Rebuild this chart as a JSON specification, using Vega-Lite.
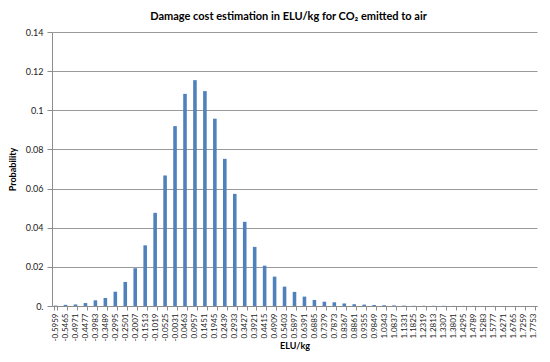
{
  "$schema": "https://vega.github.io/schema/vega-lite/v6.json",
  "autosize": {"type": "none"},
  "width": 485,
  "height": 274,
  "padding": {"left": 52, "top": 32, "right": 13, "bottom": 56},
  "background": "white",
  "title": {
    "text": "Damage cost estimation in ELU/kg for CO₂ emitted to air",
    "font": "Lato",
    "fontSize": 11,
    "fontWeight": "bold",
    "color": "#000000",
    "offset": 6,
    "anchor": "middle",
    "dx": -6
  },
  "config": {
    "view": {"stroke": null},
    "font": "Lato"
  },
  "data": {
    "values": [
      {"x": "-0.5959", "p": 0.0002},
      {"x": "-0.5465", "p": 0.0006},
      {"x": "-0.4971", "p": 0.0008},
      {"x": "-0.4477", "p": 0.0015},
      {"x": "-0.3983", "p": 0.0029},
      {"x": "-0.3489", "p": 0.0041},
      {"x": "-0.2995", "p": 0.0073},
      {"x": "-0.2501", "p": 0.0123},
      {"x": "-0.2007", "p": 0.0193},
      {"x": "-0.1513", "p": 0.0310},
      {"x": "-0.1019", "p": 0.0476},
      {"x": "-0.0525", "p": 0.0667},
      {"x": "-0.0031", "p": 0.0919},
      {"x": "0.0463", "p": 0.1084},
      {"x": "0.0957", "p": 0.1154},
      {"x": "0.1451", "p": 0.1098},
      {"x": "0.1945", "p": 0.0957},
      {"x": "0.2439", "p": 0.0752},
      {"x": "0.2933", "p": 0.0573},
      {"x": "0.3427", "p": 0.0430},
      {"x": "0.3921", "p": 0.0302},
      {"x": "0.4415", "p": 0.0206},
      {"x": "0.4909", "p": 0.0150},
      {"x": "0.5403", "p": 0.0099},
      {"x": "0.5897", "p": 0.0072},
      {"x": "0.6391", "p": 0.0048},
      {"x": "0.6885", "p": 0.0031},
      {"x": "0.7379", "p": 0.0022},
      {"x": "0.7873", "p": 0.0019},
      {"x": "0.8367", "p": 0.0013},
      {"x": "0.8861", "p": 0.0009},
      {"x": "0.9355", "p": 0.0007},
      {"x": "0.9849", "p": 0.0005},
      {"x": "1.0343", "p": 0.0004},
      {"x": "1.0837", "p": 0.0003},
      {"x": "1.1331", "p": 0.0002},
      {"x": "1.1825", "p": 0.0001},
      {"x": "1.2319", "p": 0.0001},
      {"x": "1.2813", "p": 0.0001},
      {"x": "1.3307", "p": 0.0001},
      {"x": "1.3801", "p": 0.00005},
      {"x": "1.4295", "p": 0.00005},
      {"x": "1.4789", "p": 0.00005},
      {"x": "1.5283", "p": 0.00003},
      {"x": "1.5777", "p": 0.00003},
      {"x": "1.6271", "p": 0.00003},
      {"x": "1.6765", "p": 0.00002},
      {"x": "1.7259", "p": 0.00002},
      {"x": "1.7753", "p": 0.00002}
    ]
  },
  "mark": {"type": "bar", "color": "#4F81BD"},
  "encoding": {
    "x": {
      "field": "x",
      "type": "ordinal",
      "sort": null,
      "scale": {"paddingInner": 0.64, "paddingOuter": 0.18},
      "axis": {
        "title": "ELU/kg",
        "titleFont": "Lato",
        "titleFontSize": 9,
        "titleFontWeight": "bold",
        "titleColor": "#000000",
        "titlePadding": 0,
        "labelAngle": -90,
        "labelFontSize": 8,
        "labelColor": "#222222",
        "labelPadding": 3,
        "domainColor": "#8c8c8c",
        "tickColor": "#8c8c8c",
        "tickSize": 4,
        "tickBand": "extent",
        "grid": false
      }
    },
    "y": {
      "field": "p",
      "type": "quantitative",
      "scale": {"domain": [0, 0.14], "nice": false},
      "axis": {
        "title": "Probability",
        "titleFont": "Lato",
        "titleFontSize": 9,
        "titleFontWeight": "bold",
        "titleColor": "#000000",
        "titlePadding": 8,
        "values": [0, 0.02, 0.04, 0.06, 0.08, 0.1, 0.12, 0.14],
        "labelExpr": "datum.value == 0 ? '0.' : format(datum.value, '.2~f')",
        "labelFontSize": 9,
        "labelColor": "#222222",
        "labelPadding": 4,
        "domainColor": "#8c8c8c",
        "tickColor": "#8c8c8c",
        "tickSize": 5,
        "gridColor": "#9a9a9a",
        "gridWidth": 1
      }
    }
  }
}
